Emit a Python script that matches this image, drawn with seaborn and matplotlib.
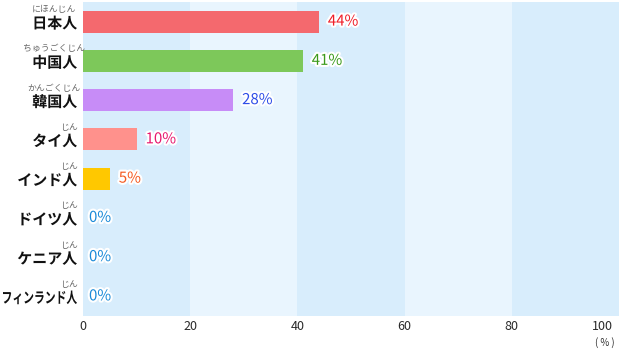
import pandas as pd
import matplotlib.pyplot as plt
import matplotlib.patheffects as pe
from matplotlib.textpath import TextPath
from matplotlib.patches import PathPatch
from matplotlib.font_manager import FontProperties
from matplotlib.transforms import Affine2D, IdentityTransform
import seaborn as sns

# Data
nationalities = ['日本人', '中国人', '韓国人', 'タイ人', 'インド人', 'ドイツ人', 'ケニア人', 'フィンランド人']
furigana = ['にほんじん', 'ちゅうごくじん', 'かんごくじん', 'じん', 'じん', 'じん', 'じん', 'じん']
percent = [44, 41, 28, 10, 5, 0, 0, 0]
bar_colors = ['#f4696e', '#7dc85a', '#c78cf7', '#ff918c', '#ffc800', '#9fd2f5', '#9fd2f5', '#9fd2f5']
label_colors = ['#f01e28', '#3a9a1a', '#2f4ee8', '#e8186e', '#f55a20', '#1a8ad8', '#1a8ad8', '#1a8ad8']
x_ticks = [0, 20, 40, 60, 80, 100]

df = pd.DataFrame({'nationality': nationalities, 'percent': percent})

sns.set_style('white')
plt.rcParams['font.family'] = ['Noto Sans CJK JP', 'DejaVu Sans']

fig = plt.figure(figsize=(6.2, 3.56), dpi=100)
ax = fig.add_axes([83 / 620, 40 / 356, 536 / 620, 314 / 356])

# alternating background bands
for i, x0 in enumerate(x_ticks[:-1]):
    ax.axvspan(x0, x0 + 20, color='#d8edfc' if i % 2 == 0 else '#e9f5fe', lw=0, zorder=0)

sns.barplot(data=df, x='percent', y='nationality', hue='nationality', palette=bar_colors,
            orient='h', width=0.56, saturation=1, linewidth=0, legend=False, ax=ax, zorder=2)

ax.set_xlim(0, 100)
ax.set_ylim(len(nationalities) - 0.5, -0.5)
ax.set_xlabel('')
ax.set_ylabel('')
ax.set_xticks([])
ax.set_yticks([])
for s in ax.spines.values():
    s.set_visible(False)

outline = [pe.withStroke(linewidth=3, foreground='white')]
label_font = FontProperties(family='Noto Sans CJK JP', weight='bold')
right_px = 77      # right edge of category labels (pixels)
max_w_px = 74      # squeeze long names to fit the margin

for i, (name, furi, val) in enumerate(zip(nationalities, furigana, percent)):
    # category label drawn as a path so long names can be squeezed horizontally
    tp = TextPath((0, 0), name, size=15, prop=label_font)
    ext = tp.get_extents()
    sx = min(1.0, max_w_px / ext.width)
    y_px = ax.transData.transform((0, i))[1]
    tr = (Affine2D().translate(-ext.x1, -(ext.y0 + ext.y1) / 2)
          .scale(sx, 1).translate(right_px, y_px - 1))
    fig.patches.append(PathPatch(tr.transform_path(tp), transform=IdentityTransform(),
                                 facecolor='#111111', edgecolor='none', figure=fig))
    # furigana: over the whole word for kanji names, over 人 otherwise
    fx = -29 if furi != 'じん' else -14
    ax.annotate(furi, xy=(0, i), xycoords=('axes fraction', 'data'),
                xytext=(fx, 12), textcoords='offset pixels',
                ha='center', va='center', fontsize=6.4, color='#6a6a6a')
    # value label
    ax.annotate(f'{val}%', xy=(val, i), xycoords='data',
                xytext=(9 if val > 0 else 6, 0), textcoords='offset pixels',
                ha='left', va='center', fontsize=10.8, color=label_colors[i],
                path_effects=outline, zorder=5)

# x tick labels
for t in x_ticks:
    ax.annotate(str(t), xy=(t, 0), xycoords=('data', 'axes fraction'),
                xytext=(0 if t < 100 else -6, -11), textcoords='offset pixels',
                ha='center' if t < 100 else 'right', va='center',
                fontsize=9, color='#2a2a2a')
ax.annotate('( % )', xy=(100, 0), xycoords=('data', 'axes fraction'),
            xytext=(-4, -27), textcoords='offset pixels',
            ha='right', va='center', fontsize=7, color='#333333')

plt.savefig('out.png', dpi=100)
